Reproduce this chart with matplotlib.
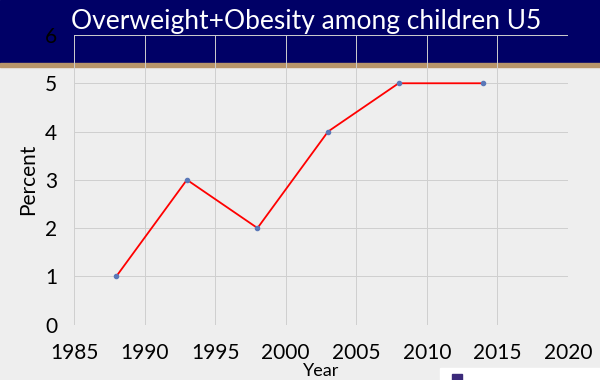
import matplotlib.pyplot as plt
from matplotlib.patches import Rectangle

# survey years and prevalence of overweight+obesity (%)
years = [1988, 1993, 1998, 2003, 2008, 2014]
percent = [1, 3, 2, 4, 5, 5]

x_ticks = [1985, 1990, 1995, 2000, 2005, 2010, 2015, 2020]
y_ticks = [0, 1, 2, 3, 4, 5, 6]

plt.rcParams["font.family"] = ["Lato", "DejaVu Sans"]

fig = plt.figure(figsize=(6, 3.8), dpi=100, facecolor="#eeeeee")

# slide header band (kept behind the axes)
fig.patches.append(Rectangle((0, 1 - 63 / 380), 1, 63 / 380, transform=fig.transFigure,
                             color="#000066", zorder=-10))
fig.patches.append(Rectangle((0, 1 - 67 / 380), 1, 4 / 380, transform=fig.transFigure,
                             color="#b8956a", zorder=-10))
# logo strip bottom right
fig.patches.append(Rectangle((440 / 600, 0), 160 / 600, 12 / 380, transform=fig.transFigure,
                             color="white", zorder=-10))
fig.patches.append(Rectangle((452 / 600, 0), 10 / 600, 6 / 380, transform=fig.transFigure,
                             color="#3b2a7a", zorder=-9))

fig.text(0.51, 1 - 22 / 380, "Overweight+Obesity among children U5",
         ha="center", va="center", color="white", fontsize=19)

ax = fig.add_axes([74 / 600, 1 - 324.6 / 380, 494 / 600, 289.6 / 380])
ax.set_facecolor("none")

ax.plot(years, percent, color="red", linewidth=1.3, marker="o", markersize=3,
        markerfacecolor="#5a78b8", markeredgecolor="#5a78b8", zorder=3)

ax.set_xlim(1985, 2020)
ax.set_ylim(0, 6)
ax.set_xticks(x_ticks)
ax.set_yticks(y_ticks)
ax.grid(True, color="#cfcfcf", linewidth=0.7)
ax.set_axisbelow(True)
for side in ["top", "right", "left", "bottom"]:
    ax.spines[side].set_visible(False)
ax.tick_params(length=0, labelsize=15, colors="black")
ax.tick_params(axis="x", pad=13)
ax.tick_params(axis="y", pad=12)

ax.set_ylabel("Percent", fontsize=15, labelpad=5)
ax.set_xlabel("Year", fontsize=13, labelpad=0)

fig.savefig("out.png", dpi=100, facecolor=fig.get_facecolor())
